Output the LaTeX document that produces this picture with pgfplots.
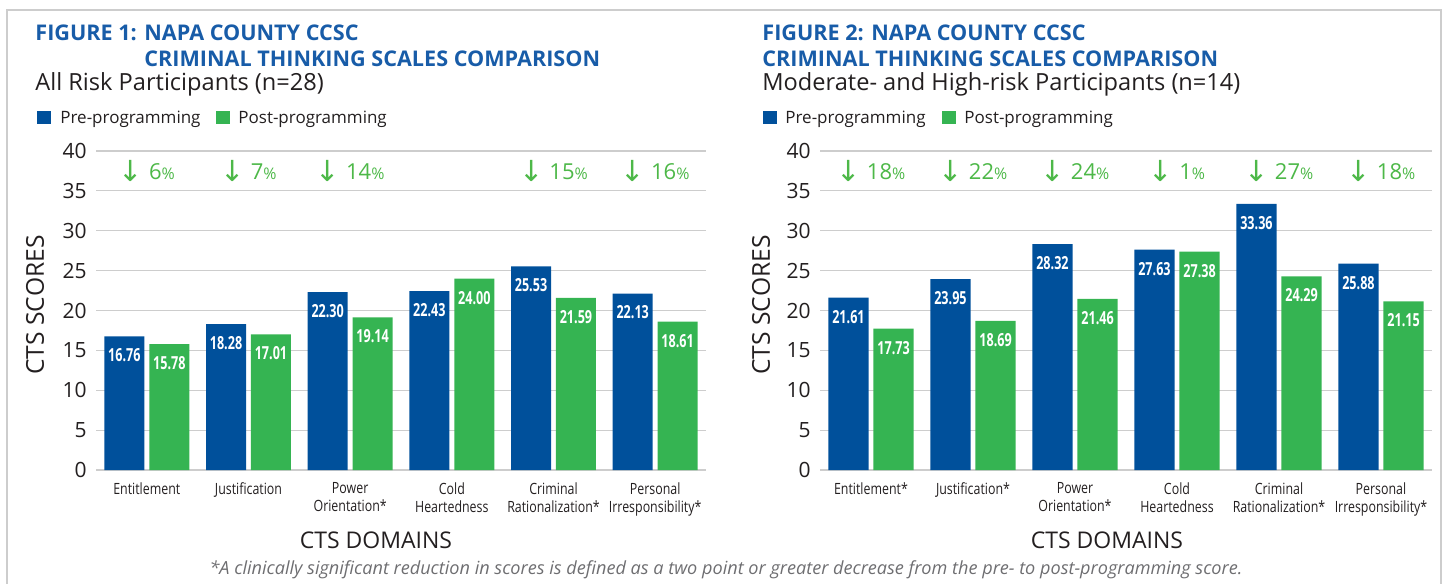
\documentclass[border=0pt]{standalone}
\usepackage{pgfplots}
\pgfplotsset{compat=1.18}
\usepackage{pgfplotstable}
\usepackage{fontspec}
\setmainfont{Open Sans}
\newfontfamily\condfont[FakeStretch=0.8]{Open Sans}
\newfontfamily\valfont[FakeStretch=0.7]{Open Sans}
\newfontfamily\arrowfont{DejaVu Sans}
\definecolor{barblue}{RGB}{0,80,155}
\definecolor{bargreen}{RGB}{53,180,82}
\definecolor{pctgreen}{RGB}{77,184,72}
\definecolor{titleblue}{RGB}{24,92,168}
\definecolor{txt}{RGB}{35,31,32}
\definecolor{gridc}{RGB}{205,205,205}
\definecolor{foot}{RGB}{110,110,113}

\pgfplotstableread{
x pre post
0 16.76 15.78
1 18.28 17.01
2 22.30 19.14
3 22.43 24.00
4 25.53 21.59
5 22.13 18.61
}\tableA
\pgfplotstableread{
x pre post
0 21.61 17.73
1 23.95 18.69
2 28.32 21.46
3 27.63 27.38
4 33.36 24.29
5 25.88 21.15
}\tableB

\pgfplotsset{ctsaxis/.style={
  scale only axis, anchor=south west, height=159.5pt,
  ymin=0, ymax=40, ytick={0,5,...,40},
  xmin=-0.5, xmax=5.5, xtick={0,...,5},
  /pgf/number format/assume math mode=true,
  ymajorgrids, grid style={gridc, line width=0.6pt},
  axis line style={draw=none}, major tick length=0pt,
  ybar, bar width=0.394,
  yticklabel style={font=\fontsize{10.5}{12}\selectfont, text=txt, inner sep=0pt, xshift=-4.5pt},
  xticklabel style={font=\condfont\fontsize{7.75}{9}\selectfont, text=txt, align=center, inner sep=0pt, yshift=-6pt, anchor=north},
  nodes near coords={\pgfmathprintnumber[fixed,fixed zerofill,precision=2,assume math mode=true]{\pgfplotspointmeta}},
  clip=false,
}}
\pgfplotsset{
  prestyle/.style={fill=barblue, draw=none, bar shift=-0.221,
    every node near coord/.append style={anchor=north, text=white, inner sep=0pt, yshift=-6pt, font=\valfont\bfseries\fontsize{9}{10}\selectfont}},
  poststyle/.style={fill=bargreen, draw=none, bar shift=0.221,
    every node near coord/.append style={anchor=north, text=white, inner sep=0pt, yshift=-6pt, font=\valfont\bfseries\fontsize{9}{10}\selectfont}},
}
\newcommand{\pct}[1]{{\color{pctgreen}\raisebox{-1pt}{\arrowfont\fontsize{14.5}{15}\selectfont ↓}\hspace{3pt}{\fontsize{11}{12}\selectfont #1}{\fontsize{8}{9}\selectfont\%}}}

\begin{document}
\begin{tikzpicture}[x=0.5pt,y=-0.5pt]
\useasboundingbox (0,0) rectangle (1447,584);
\draw[gridc, line width=0.6pt] (7,584) -- (7,10) -- (1441,10) -- (1441,584);

% ---------- Figure 1 ----------
\node[anchor=base west, inner sep=0pt, text=titleblue, font=\bfseries\fontsize{10.8}{12}\selectfont] at (35,40) {FIGURE 1: NAPA COUNTY CCSC};
\node[anchor=base west, inner sep=0pt, text=titleblue, font=\bfseries\fontsize{10.8}{12}\selectfont] at (144,66) {CRIMINAL THINKING SCALES COMPARISON};
\node[anchor=base west, inner sep=0pt, text=txt, font=\fontsize{11.8}{13}\selectfont] at (35,90) {All Risk Participants (n=28)};
\fill[barblue] (37,111) rectangle (51,124);
\node[anchor=base west, inner sep=0pt, text=txt, font=\fontsize{8.5}{10}\selectfont] at (60,123) {Pre-programming};
\fill[bargreen] (216,111) rectangle (230,124);
\node[anchor=base west, inner sep=0pt, text=txt, font=\fontsize{8.5}{10}\selectfont] at (238,123) {Post-programming};
\node[rotate=90, inner sep=0pt, text=txt, font=\fontsize{12.3}{13}\selectfont] at (35,305) {CTS SCORES};
\node[anchor=base, inner sep=0pt, text=txt, font=\fontsize{11.5}{13}\selectfont] at (376,548) {CTS DOMAINS};

\begin{axis}[ctsaxis, at={(48pt,-235pt)}, width=305pt,
  xticklabels={Entitlement, Justification, Power\\Orientation*, Cold\\Heartedness, Criminal\\Rationalization*, Personal\\Irresponsibility*}]
\addplot[prestyle] table[x=x, y=pre] {\tableA};
\addplot[poststyle] table[x=x, y=post] {\tableA};
\node at (axis cs:0,37.5) {\pct{6}};
\node at (axis cs:1,37.5) {\pct{7}};
\node at (axis cs:2,37.5) {\pct{14}};
\node at (axis cs:4,37.5) {\pct{15}};
\node at (axis cs:5,37.5) {\pct{16}};
\end{axis}

% ---------- Figure 2 ----------
\node[anchor=base west, inner sep=0pt, text=titleblue, font=\bfseries\fontsize{10.8}{12}\selectfont] at (762,40) {FIGURE 2: NAPA COUNTY CCSC};
\node[anchor=base west, inner sep=0pt, text=titleblue, font=\bfseries\fontsize{10.8}{12}\selectfont] at (762,66) {CRIMINAL THINKING SCALES COMPARISON};
\node[anchor=base west, inner sep=0pt, text=txt, font=\fontsize{11.8}{13}\selectfont] at (762,90) {Moderate- and High-risk Participants (n=14)};
\fill[barblue] (763,111) rectangle (777,124);
\node[anchor=base west, inner sep=0pt, text=txt, font=\fontsize{8.5}{10}\selectfont] at (785,123) {Pre-programming};
\fill[bargreen] (942,111) rectangle (956,124);
\node[anchor=base west, inner sep=0pt, text=txt, font=\fontsize{8.5}{10}\selectfont] at (964,123) {Post-programming};
\node[rotate=90, inner sep=0pt, text=txt, font=\fontsize{12.3}{13}\selectfont] at (761,305) {CTS SCORES};
\node[anchor=base, inner sep=0pt, text=txt, font=\fontsize{11.5}{13}\selectfont] at (1107,548) {CTS DOMAINS};

\begin{axis}[ctsaxis, at={(410pt,-235pt)}, width=306pt,
  xticklabels={Entitlement*, Justification*, Power\\Orientation*, Cold\\Heartedness, Criminal\\Rationalization*, Personal\\Irresponsibility*}]
\addplot[prestyle] table[x=x, y=pre] {\tableB};
\addplot[poststyle] table[x=x, y=post] {\tableB};
\node at (axis cs:0,37.5) {\pct{18}};
\node at (axis cs:1,37.5) {\pct{22}};
\node at (axis cs:2,37.5) {\pct{24}};
\node at (axis cs:3,37.5) {\pct{1}};
\node at (axis cs:4,37.5) {\pct{27}};
\node at (axis cs:5,37.5) {\pct{18}};
\end{axis}

\node[anchor=base, inner sep=0pt, text=foot, font=\itshape\fontsize{9.05}{10}\selectfont] at (726,574) {*A clinically significant reduction in scores is defined as a two point or greater decrease from the pre- to post-programming score.};
\end{tikzpicture}
\end{document}
